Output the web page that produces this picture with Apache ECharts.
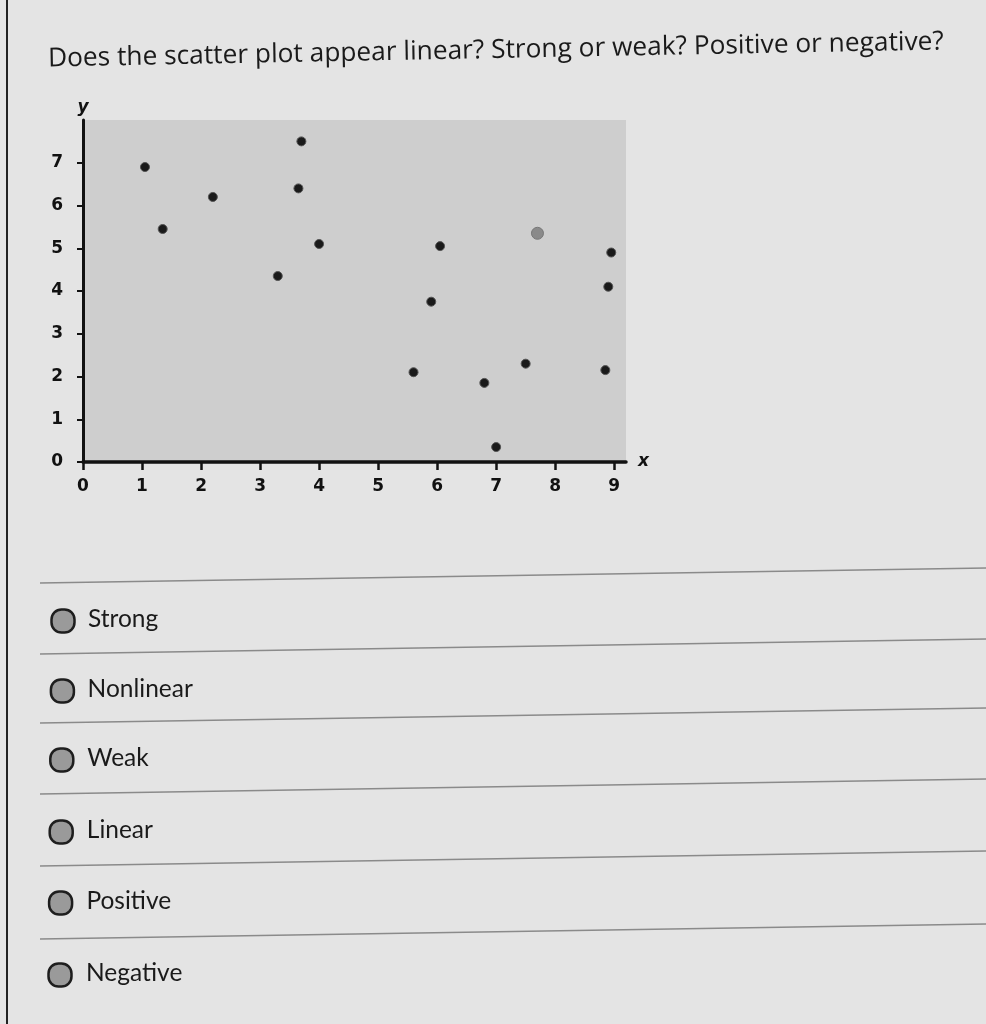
<!DOCTYPE html>
<html>
<head>
<meta charset="utf-8">
<script src="https://cdn.jsdelivr.net/npm/echarts@6/dist/echarts.min.js"></script>
<style>
html,body{margin:0;padding:0;background:#e4e4e4;}
#chart{width:986px;height:1024px;}
</style>
</head>
<body>
<div id="chart"></div>
<script>
// ---- data ----
const questionText = 'Does the scatter plot appear linear? Strong or weak? Positive or negative?';
const xValues = [1.05, 1.35, 2.2, 3.7, 3.65, 4.0, 3.3, 6.05, 5.9, 5.6, 6.8, 7.0, 7.5, 8.95, 8.9, 8.85];
const yValues = [6.9, 5.45, 6.2, 7.5, 6.4, 5.1, 4.35, 5.05, 3.75, 2.1, 1.85, 0.35, 2.3, 4.9, 4.1, 2.15];
const highlightX = [7.7];
const highlightY = [5.35];
const xTicks = [0, 1, 2, 3, 4, 5, 6, 7, 8, 9];
const yTicks = [0, 1, 2, 3, 4, 5, 6, 7];
const answerOptions = ['Strong', 'Nonlinear', 'Weak', 'Linear', 'Positive', 'Negative'];

// ---- build ----
const pts = xValues.map((x, i) => [x, yValues[i]]);
const hpts = highlightX.map((x, i) => [x, highlightY[i]]);

const optionRowsY = [619, 689, 758, 830, 901, 973];
const lineRowsY = [583, 654, 723, 794, 866, 939];

const graphics = [];
graphics.push({type:'rect', shape:{x:6, y:0, width:2, height:1024}, style:{fill:'#222'}, silent:true});
graphics.push({
  type:'text', x:48, y:59, rotation:0.019,
  style:{text:questionText, fill:'#1a1a1a', font:'26.3px "Open Sans", sans-serif', textVerticalAlign:'middle', textAlign:'left'},
  silent:true
});
lineRowsY.forEach(y => {
  graphics.push({type:'line', shape:{x1:40, y1:y, x2:986, y2:y-15}, style:{stroke:'#8a8a8a', lineWidth:1.5}, silent:true});
});
answerOptions.forEach((label, i) => {
  const cy = optionRowsY[i];
  const cx = 63 - i * 0.6;
  graphics.push({type:'rect', shape:{x:cx-11.5, y:cy-11.5+2, width:23, height:23, r:10}, style:{fill:'#9a9a9a', stroke:'#1e1e1e', lineWidth:2.5}, silent:true});
  graphics.push({type:'text', x:88 - i*0.4, y:cy, style:{text:label, fill:'#1a1a1a', font:'24.5px Lato, sans-serif', textVerticalAlign:'middle', textAlign:'left'}, silent:true});
});

const chart = echarts.init(document.getElementById('chart'));
chart.setOption({
  backgroundColor:'#e4e4e4',
  animation:false,
  grid:{left:83, right:360, top:120, bottom:562, show:true, backgroundColor:'#cecece', borderWidth:0, containLabel:false, outerBoundsMode:'none'},
  xAxis:{
    type:'value', min:0, max:9.2, interval:1,
    name:'x', nameLocation:'end', nameGap:12,
    nameTextStyle:{fontFamily:'DejaVu Sans', fontWeight:'bold', fontStyle:'italic', fontSize:17, color:'#111', verticalAlign:'middle'},
    axisLine:{show:true, onZero:false, lineStyle:{color:'#111', width:3.5}},
    axisTick:{show:true, length:8, lineStyle:{color:'#111', width:2.5}, customValues:xTicks},
    axisLabel:{show:true, margin:16, color:'#111', fontFamily:'DejaVu Sans', fontWeight:'bold', fontSize:17, customValues:xTicks, formatter: v => String(v)},
    splitLine:{show:false}
  },
  yAxis:{
    type:'value', min:0, max:8, interval:1,
    name:'y', nameLocation:'end', nameGap:4,
    nameTextStyle:{fontFamily:'DejaVu Sans', fontWeight:'bold', fontStyle:'italic', fontSize:17, color:'#111', align:'center'},
    axisLine:{show:true, onZero:false, lineStyle:{color:'#111', width:3}},
    axisTick:{show:true, length:6, lineStyle:{color:'#111', width:2}, customValues:yTicks},
    axisLabel:{show:true, margin:20, color:'#111', fontFamily:'DejaVu Sans', fontWeight:'bold', fontSize:17, customValues:yTicks, formatter: v => String(v)},
    splitLine:{show:false}
  },
  series:[
    {type:'scatter', data:pts, symbol:'circle', symbolSize:9, itemStyle:{color:'#1a1a1a', borderColor:'#555', borderWidth:1, opacity:1}, silent:true},
    {type:'scatter', data:hpts, symbol:'circle', symbolSize:12, itemStyle:{color:'#8a8a8a', borderColor:'#777', borderWidth:1, opacity:1}, silent:true}
  ],
  graphic:graphics
});
</script>
</body>
</html>
